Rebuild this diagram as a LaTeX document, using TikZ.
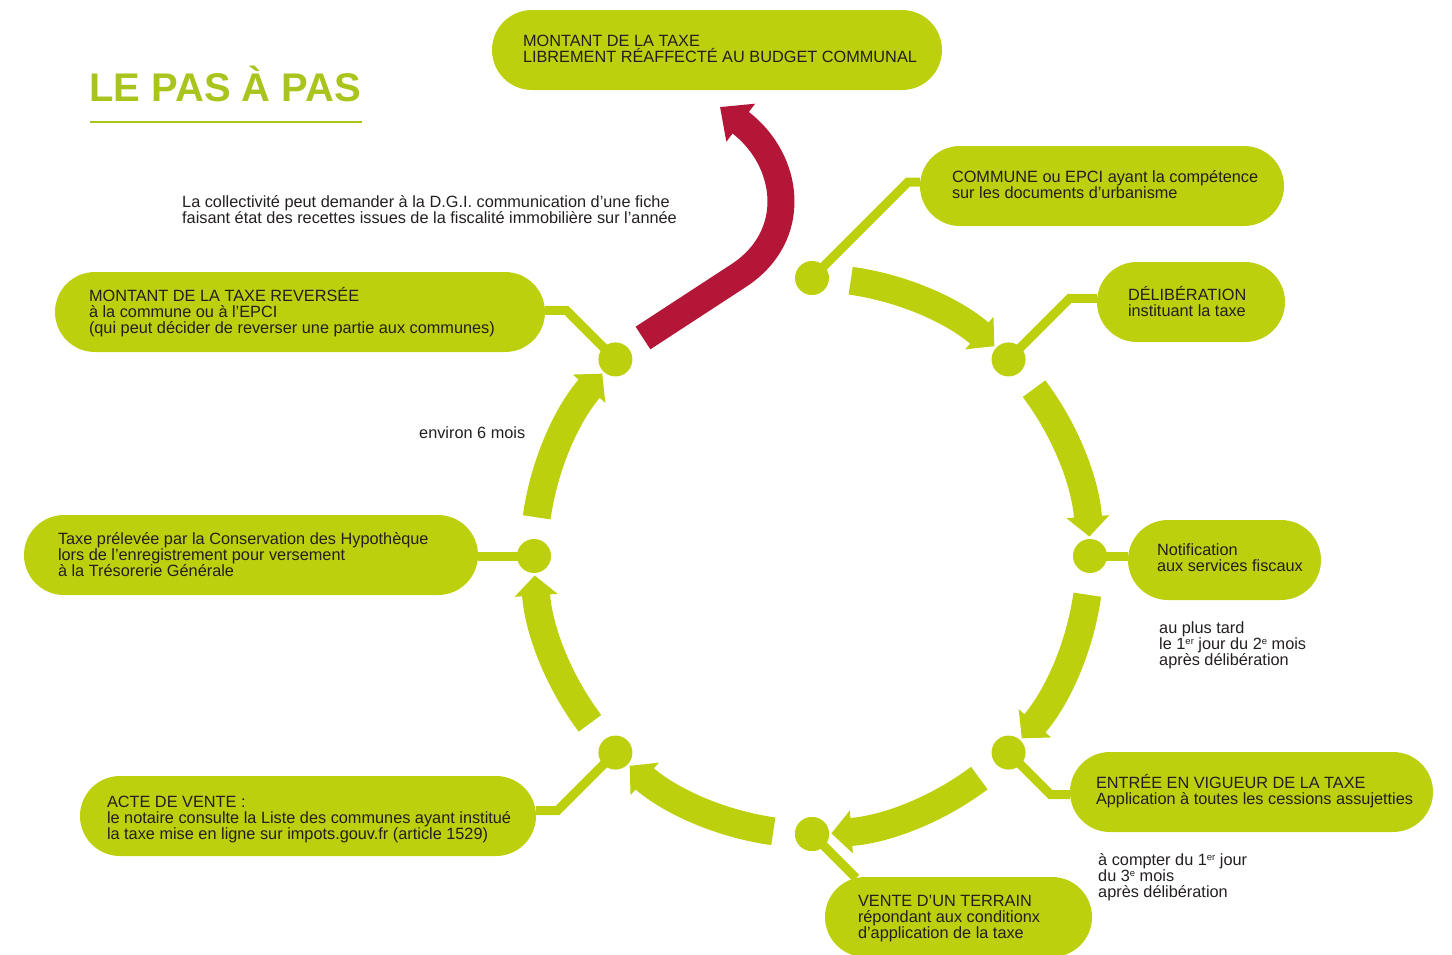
\documentclass[tikz,border=0pt]{standalone}
\usepackage{fontspec}
\setmainfont{Liberation Sans}
\usetikzlibrary{arrows.meta,positioning}
\definecolor{vert}{RGB}{189,208,14}
\definecolor{titre}{RGB}{170,196,30}
\definecolor{rouge}{RGB}{180,22,56}
\definecolor{encre}{RGB}{35,31,32}
\newcommand{\expo}[1]{\raisebox{0.6ex}{\fontsize{9.5}{9.5}\selectfont #1}}
\begin{document}
\begin{tikzpicture}[
			x=1pt, y=-1pt,
			etape/.style={fill=vert, rounded corners=40pt, minimum height=80pt, inner sep=0pt},
			texte/.style={anchor=west, align=left, inner sep=0pt, text=encre, font=\fontsize{16.3}{16}\selectfont},
			point/.style={circle, fill=vert, minimum size=34pt, inner sep=0pt},
			lien/.style={draw=vert, line width=9pt},
			fleche/.style={draw=vert, line width=28pt, -{Triangle[width=42pt,length=20pt]}},
			retour/.style={draw=rouge, line width=27pt, -{Triangle[width=46pt,length=26pt]}}
			]
			\useasboundingbox (0,0) rectangle (1452,954);
			\coordinate (c) at (812,556);
			
			% titre
			\node[anchor=west, inner sep=0pt, text=titre, font=\fontsize{40}{40}\selectfont\bfseries] (titre) at (89,84) {LE PAS À PAS};
			\draw[titre, line width=1.2pt] (90,122) -- (362,122);
			
			% fleches du cycle
			\foreach \a [evaluate=\a as \s using \a+8, evaluate=\a as \e using \a+41] in {-90,-45,0,45,90,135,180}
				\draw[fleche] ([shift={(c)}]\s:278) arc[start angle=\s, end angle=\e, radius=278];
			
			% fleche rouge
			\coordinate (r1) at (643,338);
			\coordinate (r2) at (738,276);
			\coordinate (r3) at (720,107);
			\draw[retour] (r1) -- (r2) .. controls (800,236) and (790,160) .. (r3);
			
			% points
			\node[point] (d1) at ([shift={(c)}]-90:278) {};
			\node[point] (d2) at ([shift={(c)}]-45:278) {};
			\node[point] (d3) at ([shift={(c)}]0:278) {};
			\node[point] (d4) at ([shift={(c)}]45:278) {};
			\node[point] (d5) at ([shift={(c)}]90:278) {};
			\node[point] (d6) at ([shift={(c)}]135:278) {};
			\node[point] (d7) at ([shift={(c)}]180:278) {};
			\node[point] (d8) at ([shift={(c)}]225:278) {};
			
			% etapes
			\node[etape, minimum width=450pt] (p1) at (717,50) {};
			\node[etape, minimum width=364pt] (p2) at (1102,186) {};
			\node[etape, minimum width=188pt] (p3) at (1191,302) {};
			\node[etape, minimum width=193pt] (p4) at (1224.5,560) {};
			\node[etape, minimum width=363pt] (p5) at (1251.5,792) {};
			\node[etape, minimum width=267pt] (p6) at (958.5,917) {};
			\node[etape, minimum width=456pt] (p7) at (308,816) {};
			\node[etape, minimum width=454pt] (p8) at (251,555) {};
			\node[etape, minimum width=490pt] (p9) at (300,312) {};
			
			% liens
			\draw[lien] (d1.center) -- ++(96,-96) coordinate (e1) -- (e1 -| p2.west);
			\draw[lien] (d2.center) -- ++(61,-61) coordinate (e2) -- (e2 -| p3.west);
			\draw[lien] (d3.center) -- (d3.center -| p4.west);
			\draw[lien] (d4.center) -- ++(42,42) coordinate (e4) -- (e4 -| p5.west);
			\draw[lien] (d5.center) -- ++(44,44) coordinate (e5);
			\draw[lien] (d6.center) -- ++(-58,58) coordinate (e6) -- (e6 -| p7.east);
			\draw[lien] (d7.center) -- (d7.center -| p8.east);
			\draw[lien] (d8.center) -- ++(-49,-49) coordinate (e8) -- (e8 -| p9.east);
			\fill[vert] (d5) circle (17);
			
			% textes des etapes
			\node[texte] (t1) at ([xshift=31,yshift=1]p1.west) {MONTANT DE LA TAXE\\LIBREMENT RÉAFFECTÉ AU BUDGET COMMUNAL};
			\node[texte] (t2) at ([xshift=32,yshift=1]p2.west) {COMMUNE ou EPCI ayant la compétence\\sur les documents d’urbanisme};
			\node[texte] (t3) at ([xshift=31]p3.west) {DÉLIBÉRATION\\instituant la taxe};
			\node[texte] (t4) at ([xshift=29,yshift=2]p4.west) {Notification\\aux services fiscaux};
			\node[texte] (t5) at ([xshift=26,yshift=1]p5.west) {ENTRÉE EN VIGUEUR DE LA TAXE\\Application à toutes les cessions assujetties};
			\node[texte] (t6) at ([xshift=33,yshift=-2]p6.west) {VENTE D’UN TERRAIN\\répondant aux conditionx\\d’application de la taxe};
			\node[texte] (t7) at ([xshift=27,yshift=-3]p7.west) {ACTE DE VENTE :\\le notaire consulte la Liste des communes ayant institué\\la taxe mise en ligne sur impots.gouv.fr (article 1529)};
			\node[texte] (t8) at ([xshift=34]p8.west) {Taxe prélevée par la Conservation des Hypothèque\\lors de l’enregistrement pour versement\\à la Trésorerie Générale};
			\node[texte] (t9) at ([xshift=34]p9.west) {MONTANT DE LA TAXE REVERSÉE\\à la commune ou à l’EPCI\\(qui peut décider de reverser une partie aux communes)};
			
			% notes
			\node[texte] (n1) at (182,210) {La collectivité peut demander à la D.G.I. communication d’une fiche\\faisant état des recettes issues de la fiscalité immobilière sur l’année};
			\node[texte] (n2) at (419,433) {environ 6 mois};
			\node[texte] (n3) at (1159,645) {au plus tard\\le 1\expo{er} jour du 2\expo{e} mois\\après délibération};
			\node[texte] (n4) at (1098,877) {à compter du 1\expo{er} jour\\du 3\expo{e} mois\\après délibération};
		\end{tikzpicture}
\end{document}
